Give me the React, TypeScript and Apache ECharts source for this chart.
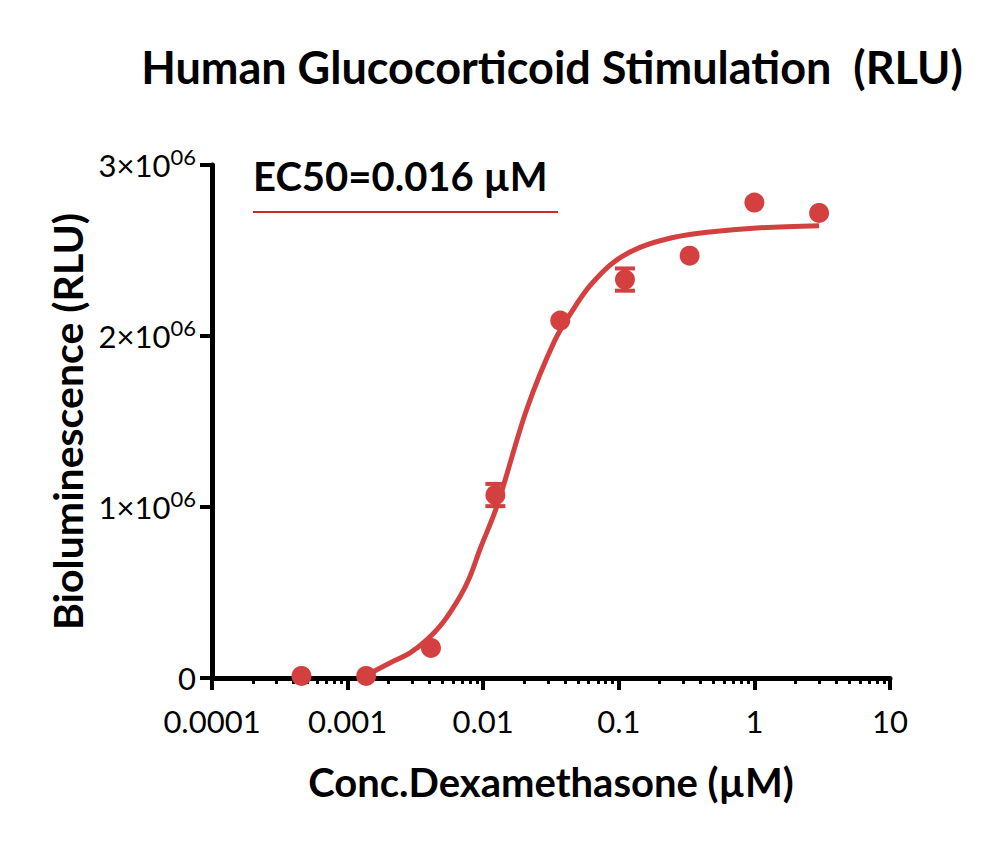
import React, { useEffect, useRef } from 'react';
import * as echarts from 'echarts';

// Measured data points (µM, RLU)
const concentrations = [0.000457, 0.00137, 0.00412, 0.0123, 0.037, 0.111, 0.333, 1, 3];
const responses = [0.012e6, 0.012e6, 0.176e6, 1.07e6, 2.09e6, 2.33e6, 2.47e6, 2.78e6, 2.72e6];
const errorHalf = [0, 0, 0, 0.065e6, 0, 0.065e6, 0, 0, 0];

// Fitted curve
const curveX = [0.00139, 0.00205, 0.00289, 0.00385, 0.00505, 0.00675, 0.00799, 0.00947, 0.01264, 0.02104, 0.0338, 0.0459, 0.0613, 0.0906, 0.1433, 0.251, 0.447, 1.1, 3.0];
const curveY = [0.018e6, 0.088e6, 0.147e6, 0.224e6, 0.324e6, 0.476e6, 0.594e6, 0.753e6, 1.006e6, 1.576e6, 1.976e6, 2.153e6, 2.294e6, 2.429e6, 2.518e6, 2.576e6, 2.607e6, 2.633e6, 2.645e6];

// Axis ticks
const xMajorTicks = [0.0001, 0.001, 0.01, 0.1, 1, 10];
const xTickLabels = ['0.0001', '0.001', '0.01', '0.1', '1', '10'];
const xMinorMultipliers = [2, 3, 4, 5, 6, 7, 8, 9];
const yTicks = [0, 1e6, 2e6, 3e6];
const yTickMantissa = ['0', '1', '2', '3'];

const titleText = 'Human Glucocorticoid Stimulation  (RLU)';
const ec50Text = 'EC50=0.016 \u00b5M';
const xName = 'Conc.Dexamethasone (\u00b5M)';
const yName = 'Bioluminescence (RLU)';

const RED = '#d43f3f';
const FONT = 'Lato, "Open Sans", sans-serif';

export default function App() {
  const ref = useRef<HTMLDivElement>(null);
  useEffect(() => {
    if (!ref.current) return;
    const chart = echarts.init(ref.current, null, { renderer: 'svg' });
    const minorTicks: number[] = [];
    for (let d = 0; d < xMajorTicks.length - 1; d++) {
      for (const m of xMinorMultipliers) minorTicks.push(+(m * xMajorTicks[d]).toPrecision(6));
    }
    const gridBox = { left: 212, right: 110, top: 165, bottom: 163 };
    const option: any = {
      animation: false,
      backgroundColor: '#ffffff',
      textStyle: { fontFamily: FONT },
      grid: [
        { ...gridBox, containLabel: false },
        { ...gridBox, containLabel: false },
      ],
      xAxis: [
        {
          type: 'log',
          gridIndex: 0,
          min: 0.0001,
          max: 10,
          logBase: 10,
          name: xName,
          nameLocation: 'middle',
          nameGap: 84,
          nameTextStyle: { fontSize: 40, fontWeight: 'bold', color: '#000', fontFamily: FONT },
          axisLine: { show: true, lineStyle: { color: '#000', width: 5 } },
          axisTick: { show: true, length: 12, lineStyle: { color: '#000', width: 4 }, customValues: xMajorTicks },
          axisLabel: {
            show: true,
            fontSize: 31,
            color: '#000',
            margin: 27,
            fontFamily: FONT,
            customValues: xMajorTicks,
            formatter: (v: number) => {
              const i = xMajorTicks.findIndex((t) => Math.abs(Math.log10(t) - Math.log10(v)) < 1e-6);
              return i >= 0 ? xTickLabels[i] : '';
            },
          },
          splitLine: { show: false },
          minorTick: { show: false },
        },
        {
          type: 'log',
          gridIndex: 1,
          min: 0.0001,
          max: 10,
          logBase: 10,
          axisLine: { show: false },
          axisTick: { show: true, length: 6, lineStyle: { color: '#000', width: 3 }, customValues: minorTicks },
          axisLabel: { show: false },
          splitLine: { show: false },
        },
      ],
      yAxis: [
        {
          type: 'value',
          gridIndex: 0,
          min: 0,
          max: 3e6,
          interval: 1e6,
          name: yName,
          nameLocation: 'middle',
          nameGap: 115,
          nameRotate: 90,
          nameTextStyle: { fontSize: 41, fontWeight: 'bold', color: '#000', fontFamily: FONT },
          axisLine: { show: true, lineStyle: { color: '#000', width: 5 } },
          axisTick: { show: true, length: 12, lineStyle: { color: '#000', width: 4 } },
          axisLabel: {
            margin: 16,
            color: '#000',
            fontFamily: FONT,
            formatter: (v: number) => {
              const i = yTicks.indexOf(v);
              if (i <= 0) return '{n|0}';
              return `{n|${yTickMantissa[i]}\u00d710}{s|06}`;
            },
            rich: {
              n: { fontSize: 31, color: '#000', fontFamily: FONT },
              s: { fontSize: 22, color: '#000', fontFamily: FONT, padding: [0, 0, 18, 0] },
            },
          },
          splitLine: { show: false },
        },
        {
          type: 'value',
          gridIndex: 1,
          min: 0,
          max: 3e6,
          show: false,
        },
      ],
      graphic: [
        {
          type: 'text',
          style: {
            text: titleText,
            x: 552,
            y: 67,
            align: 'center',
            verticalAlign: 'middle',
            fontSize: 45,
            fontWeight: 'bold',
            fill: '#000',
            fontFamily: FONT,
          },
        },
        {
          type: 'text',
          style: {
            text: ec50Text,
            x: 253,
            y: 176,
            align: 'left',
            verticalAlign: 'middle',
            fontSize: 40,
            fontWeight: 'bold',
            fill: '#000',
            fontFamily: FONT,
          },
        },
        {
          type: 'line',
          shape: { x1: 253, y1: 212, x2: 558, y2: 212 },
          style: { stroke: '#cc2b2b', lineWidth: 2 },
        },
      ],
      series: [
        {
          type: 'line',
          xAxisIndex: 0,
          yAxisIndex: 0,
          data: curveX.map((x, i) => [x, curveY[i]]),
          smooth: 0.35,
          showSymbol: false,
          symbol: 'none',
          lineStyle: { color: RED, width: 5 },
          z: 2,
        },
        {
          type: 'scatter',
          xAxisIndex: 0,
          yAxisIndex: 0,
          data: concentrations.map((x, i) => [x, responses[i]]),
          symbol: 'circle',
          symbolSize: 20,
          itemStyle: { color: RED, opacity: 1 },
          z: 3,
        },
        {
          type: 'custom',
          xAxisIndex: 0,
          yAxisIndex: 0,
          data: concentrations
            .map((x, i) => [x, responses[i] - errorHalf[i], responses[i] + errorHalf[i]])
            .filter((_, i) => errorHalf[i] > 0),
          renderItem: (params: any, api: any) => {
            const x = api.value(0);
            const lo = api.coord([x, api.value(1)]);
            const hi = api.coord([x, api.value(2)]);
            const hw = 10;
            const st = { stroke: RED, lineWidth: 4 };
            return {
              type: 'group',
              children: [
                { type: 'line', shape: { x1: lo[0], y1: lo[1], x2: hi[0], y2: hi[1] }, style: st },
                { type: 'line', shape: { x1: lo[0] - hw, y1: lo[1], x2: lo[0] + hw, y2: lo[1] }, style: st },
                { type: 'line', shape: { x1: hi[0] - hw, y1: hi[1], x2: hi[0] + hw, y2: hi[1] }, style: st },
              ],
            };
          },
          z: 4,
        },
      ],
    };
    chart.setOption(option);
    return () => chart.dispose();
  }, []);
  return (
    <div
      ref={ref}
      style={{ position: 'absolute', left: 0, top: 0, width: 1000, height: 841, background: '#fff' }}
    />
  );
}
